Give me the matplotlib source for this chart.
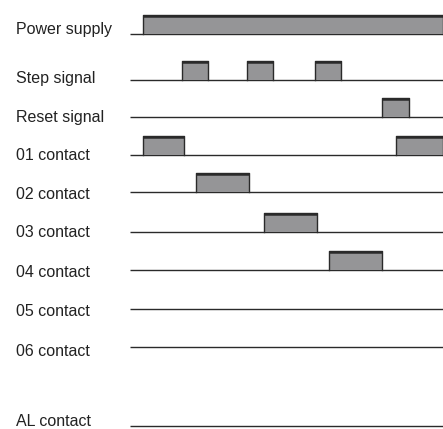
import matplotlib
matplotlib.use("Agg")
import matplotlib.pyplot as plt

# Signal names (top to bottom)
labels = ["Power supply", "Step signal", "Reset signal", "01 contact", "02 contact",
          "03 contact", "04 contact", "05 contact", "06 contact", "AL contact"]

# ON intervals for each signal (time units, 0 = start of trace, end = 313)
t_end = 313
on_power = [(13, 313)]
on_step = [(52, 78), (117, 143), (185, 211)]
on_reset = [(252, 279)]
on_01 = [(13, 54), (266, 313)]
on_02 = [(66, 119)]
on_03 = [(134, 187)]
on_04 = [(199, 252)]
on_05 = []
on_06 = []
on_al = []
intervals = [on_power, on_step, on_reset, on_01, on_02, on_03, on_04, on_05, on_06, on_al]

# layout: baseline of each row and of its label (pixel rows from top)
row_y = [34, 80, 117, 155, 192, 232, 270, 309, 347, 426]
label_y = [34, 83, 122, 160, 199, 237, 277, 316, 356, 425.5]
pulse_h = 19

fig = plt.figure(figsize=(4.43, 4.29), dpi=100)
ax = fig.add_axes([0, 0, 1, 1])
ax.set_xlim(-130, 313)
ax.set_ylim(429, 0)
ax.axis("off")

fill_c = "#959597"
edge_c = "#2a2a2a"
text_c = "#222222"

for lab, ivs, y, ly in zip(labels, intervals, row_y, label_y):
    ax.text(-114, ly, lab, fontsize=11.5, family="Liberation Sans",
            color=text_c, va="baseline", ha="left")
    # baseline
    ax.plot([0, t_end], [y, y], color=edge_c, lw=1.0, solid_capstyle="butt", zorder=2)
    for (a, b) in ivs:
        top = y - pulse_h
        ax.fill_between([a, b], [top, top], [y, y], color=fill_c, lw=0, zorder=3)
        ax.plot([a, a, b, b], [y, top, top, y], color=edge_c, lw=1.0, zorder=4)
        ax.plot([a, b], [top + 0.5, top + 0.5], color=edge_c, lw=1.8,
                solid_capstyle="butt", zorder=4)

fig.savefig("out.png", dpi=100)
